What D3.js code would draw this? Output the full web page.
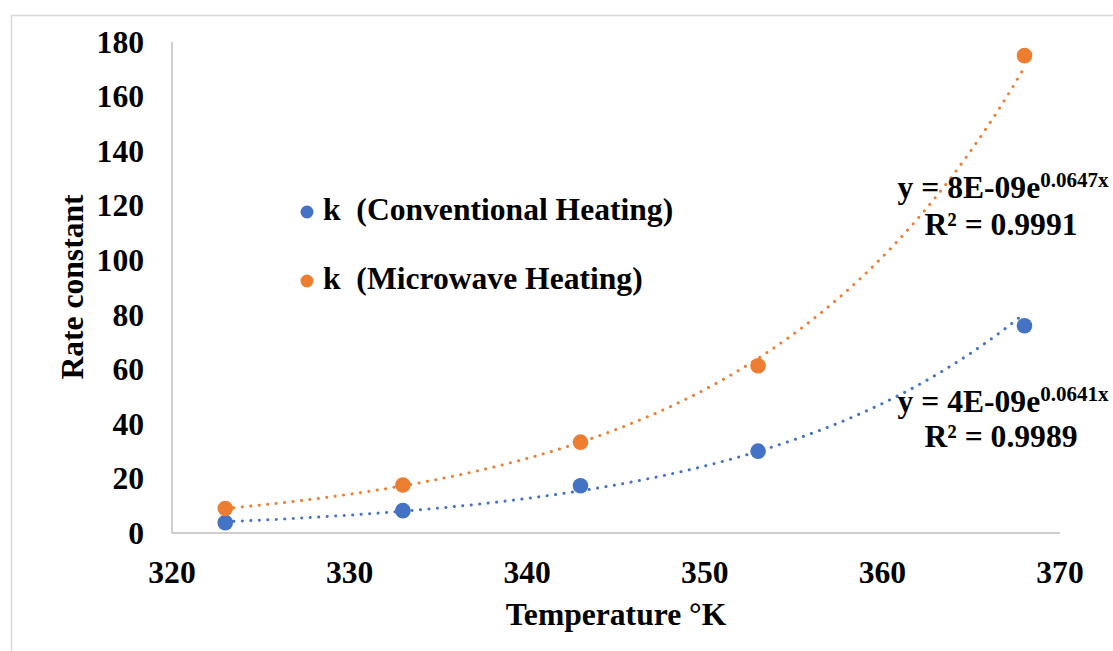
<!DOCTYPE html>
<html lang="en">
<head>
<meta charset="UTF-8">
<title>Rate constant vs temperature</title>
<style>
    body { margin: 0; background: #fff; }
    text { font-family: "Liberation Serif", "Times New Roman", serif; font-weight: bold; fill: #000; }
    .pre { white-space: pre; }
</style>
<script src="https://cdn.jsdelivr.net/npm/d3@7"></script>
</head>
<body>
<svg width="1113" height="651"></svg>
<script>
    // values
    const temps = [323, 333, 343, 353, 368];
    const kConventional = [3.8, 8.2, 17.3, 30, 76];
    const kMicrowave = [9, 17.6, 33.3, 61.3, 175];
    const seriesNames = ["k  (Conventional Heating)", "k  (Microwave Heating)"];
    const seriesColors = ["#4472C4", "#ED7D31"];
    const eqLabels = [["4E-09e", "0.0641x", "R\u00b2 = 0.9989"], ["8E-09e", "0.0647x", "R\u00b2 = 0.9991"]];
    const xTicks = [320, 330, 340, 350, 360, 370];
    const yTicks = d3.range(0, 181, 20);

    const svg = d3.select("svg");
    const fs = 31.6;

    // outer chart border
    svg.append("rect").attr("x", 11.5).attr("y", 15.5).attr("width", 1130).attr("height", 660)
        .attr("fill", "none").attr("stroke", "#d9d9d9").attr("stroke-width", 1.5);

    const x = d3.scaleLinear().domain([320, 370]).range([172, 1060]);
    const y = d3.scaleLinear().domain([0, 180]).range([533, 42]);

    // axis lines
    svg.append("line").attr("x1", x(320)).attr("x2", x(320)).attr("y1", y(180)).attr("y2", y(0))
        .attr("stroke", "#bfbfbf").attr("stroke-width", 1.5);
    svg.append("line").attr("x1", x(320)).attr("x2", x(370)).attr("y1", y(0)).attr("y2", y(0))
        .attr("stroke", "#bfbfbf").attr("stroke-width", 1.5);

    svg.append("g").selectAll("text").data(yTicks).enter().append("text")
        .attr("x", 144).attr("y", d => y(d)).attr("dy", "0.34em")
        .attr("text-anchor", "end").attr("font-size", fs).text(d => d);

    svg.append("g").selectAll("text").data(xTicks).enter().append("text")
        .attr("x", d => x(d)).attr("y", 583)
        .attr("text-anchor", "middle").attr("font-size", fs).text(d => d);

    svg.append("text").attr("x", 616).attr("y", 625).attr("text-anchor", "middle")
        .attr("font-size", fs).text("Temperature \u00b0K");
    svg.append("text").attr("transform", "translate(83,287)rotate(-90)").attr("text-anchor", "middle")
        .attr("font-size", fs).text("Rate constant");

    // exponential trendline: least squares on ln(y)
    function expFit(xs, ys) {
        const ly = ys.map(Math.log);
        const mx = d3.mean(xs), my = d3.mean(ly);
        const b = d3.sum(xs, (v, i) => (v - mx) * (ly[i] - my)) / d3.sum(xs, v => (v - mx) * (v - mx));
        const a = Math.exp(my - b * mx);
        return t => a * Math.exp(b * t);
    }

    const allSeries = [kConventional, kMicrowave];
    const line = d3.line().x(d => x(d[0])).y(d => y(d[1]));

    allSeries.forEach(function (vals, s) {
        const f = expFit(temps, vals);
        const pts = d3.range(323, 368.01, 0.5).map(t => [t, f(t)]);
        svg.append("path").attr("d", line(pts)).attr("fill", "none")
            .attr("stroke", seriesColors[s]).attr("stroke-width", 3)
            .attr("stroke-linecap", "round").attr("stroke-dasharray", "0.1 8.4");
    });

    allSeries.forEach(function (vals, s) {
        svg.append("g").selectAll("circle").data(vals).enter().append("circle")
            .attr("cx", (d, i) => x(temps[i])).attr("cy", d => y(d)).attr("r", 7.8)
            .attr("fill", seriesColors[s]);
    });

    // legend
    const legend = svg.append("g").selectAll("g").data(seriesNames).enter().append("g")
        .attr("transform", (d, i) => `translate(307,${212 + i * 69})`);
    legend.append("circle").attr("r", 6.5).attr("fill", (d, i) => seriesColors[i]);
    legend.append("text").attr("class", "pre").attr("x", 16).attr("y", 8)
        .attr("font-size", fs).text(d => d);

    // trendline equations
    const eqPos = [[1003, 412, 447], [1003, 198, 235]];
    eqLabels.forEach(function (lab, s) {
        const p = eqPos[s];
        const t = svg.append("text").attr("x", p[0]).attr("y", p[1]).attr("text-anchor", "middle")
            .attr("font-size", fs);
        t.append("tspan").text("y = " + lab[0]);
        t.append("tspan").attr("font-size", 21).attr("dy", -11).text(lab[1]);
        svg.append("text").attr("x", 1001).attr("y", p[2]).attr("text-anchor", "middle")
            .attr("font-size", fs).text(lab[2]);
    });
</script>
</body>
</html>
